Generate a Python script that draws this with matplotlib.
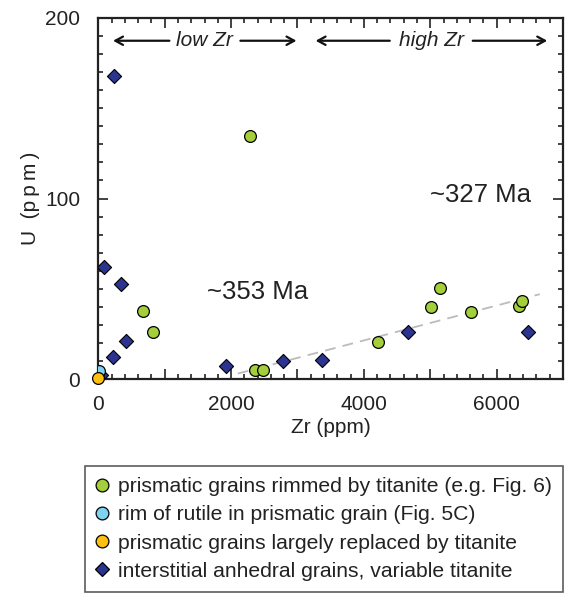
import matplotlib
matplotlib.use("Agg")
import matplotlib.pyplot as plt
from matplotlib.ticker import MultipleLocator, FuncFormatter
from matplotlib.lines import Line2D

plt.rcParams["font.family"] = ["Liberation Sans", "DejaVu Sans"]

# prismatic grains rimmed by titanite
rim_zr = [668, 823, 2286, 2361, 2477, 4211, 5013, 5153, 5615, 6331, 6382]
rim_u = [37.7, 26.2, 134.8, 5.0, 5.0, 20.5, 40.0, 50.2, 37.0, 40.4, 43.0]

# rim of rutile in prismatic grain
rut_zr = [10]
rut_u = [4.6]

# prismatic grains largely replaced by titanite
rep_zr = [0]
rep_u = [0.3]

# interstitial anhedral grains
int_zr = [40, 241, 86, 341, 412, 226, 1920, 2788, 3374, 4668, 6477]
int_u = [2.0, 168, 62, 52.6, 21.2, 12, 7.2, 10, 10.5, 26.2, 26.2]

trend_zr = [2100, 6650]
trend_u = [3.0, 47.0]

labels = [
    "prismatic grains rimmed by titanite (e.g. Fig. 6)",
    "rim of rutile in prismatic grain (Fig. 5C)",
    "prismatic grains largely replaced by titanite",
    "interstitial anhedral grains, variable titanite",
]
colors = ["#a3cf3b", "#7fd3f2", "#fdc010", "#2b3590"]

fig = plt.figure(figsize=(5.73, 6.02), dpi=100)
ax = fig.add_axes([0.1716, 0.3704, 0.811, 0.5997])

ax.plot(trend_zr, trend_u, color="#bbbbbb", lw=1.3, ls=(0, (6, 4)), zorder=1)

ax.scatter(int_zr, int_u, marker="D", s=52, c=colors[3], edgecolors="black", linewidths=0.8, zorder=3)
ax.scatter(rim_zr, rim_u, marker="o", s=72, c=colors[0], edgecolors="black", linewidths=0.9, zorder=4)
ax.scatter(rut_zr, rut_u, marker="o", s=72, c=colors[1], edgecolors="black", linewidths=0.9, zorder=4)
ax.scatter(rep_zr, rep_u, marker="o", s=72, c=colors[2], edgecolors="black", linewidths=0.9, zorder=5, clip_on=False)

ax.set_xlim(0, 7000)
ax.set_ylim(0, 200)

ax.xaxis.set_major_locator(MultipleLocator(1000))
ax.xaxis.set_minor_locator(MultipleLocator(200))
ax.xaxis.set_major_formatter(FuncFormatter(lambda v, p: f"{int(v)}" if int(v) % 2000 == 0 else ""))
ax.yaxis.set_major_locator(MultipleLocator(100))
ax.yaxis.set_minor_locator(MultipleLocator(10))

ax.tick_params(which="both", direction="in", top=True, right=True, width=1.2, colors="#222222", labelsize=15)
ax.tick_params(which="major", length=7)
ax.tick_params(axis="y", which="major", pad=13)
ax.tick_params(axis="x", which="major", pad=11.5)
ax.tick_params(which="minor", length=3.5)
for s in ax.spines.values():
    s.set_linewidth(1.6)
    s.set_color("#222222")

ax.set_xlabel("Zr (ppm)", fontsize=15, labelpad=3, color="#222222")
ax.set_ylabel("U  (p\u2009p\u2009m\u2009)", fontsize=15, labelpad=4, color="#222222")

ax.text(2400, 48, "~353 Ma", fontsize=18.5, ha="center", va="center", color="#222222")
ax.text(5760, 102, "~327 Ma", fontsize=18.5, ha="center", va="center", color="#222222")

# low Zr / high Zr ranges
yr = 187.4
arrow = dict(arrowstyle="->,head_length=0.55,head_width=0.3", color="#111111", lw=1.6,
             shrinkA=0, shrinkB=0)
ax.text(1600, yr, "low Zr", fontsize=15, style="italic", ha="center", va="center", color="#222222")
ax.annotate("", xy=(222, yr), xytext=(1070, yr), arrowprops=arrow)
ax.annotate("", xy=(2985, yr), xytext=(2140, yr), arrowprops=arrow)
ax.text(5020, yr, "high Zr", fontsize=15, style="italic", ha="center", va="center", color="#222222")
ax.annotate("", xy=(3273, yr), xytext=(4390, yr), arrowprops=arrow)
ax.annotate("", xy=(6762, yr), xytext=(5640, yr), arrowprops=arrow)

markers = ["o", "o", "o", "D"]
handles = [Line2D([], [], ls="none", marker=m, markersize=(9.2 if m == "o" else 7.6),
                  markerfacecolor=c, markeredgecolor="black", markeredgewidth=0.9)
           for m, c in zip(markers, colors)]
leg = fig.legend(handles, labels, loc="upper left", bbox_to_anchor=(0.148, 0.226),
                 fontsize=15.2, frameon=True, fancybox=False, handlelength=0.6,
                 handletextpad=0.47, borderpad=0.52, labelspacing=0.44, borderaxespad=0,
                 labelcolor="#222222")
leg.get_frame().set_edgecolor("#333333")
leg.get_frame().set_linewidth(1.2)

fig.savefig("out.png", dpi=100)
